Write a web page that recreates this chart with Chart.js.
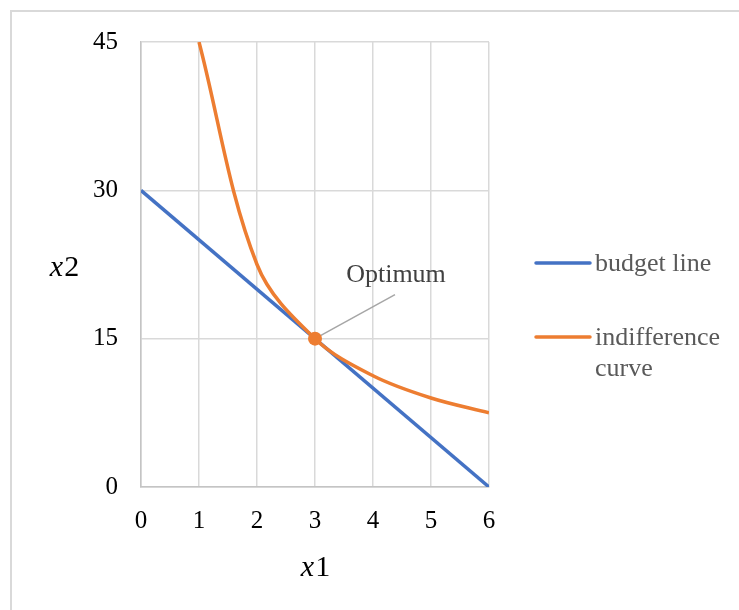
<!DOCTYPE html>
<html><head><meta charset="utf-8">
<script src="https://cdn.jsdelivr.net/npm/chart.js@4"></script>
<style>
html,body{margin:0;padding:0;background:#fff;overflow:hidden;width:739px;height:610px}
#frame{position:absolute;left:10px;top:10px;width:760px;height:640px;border:2px solid #d9d9d9;box-sizing:border-box}
#wrap{position:absolute;left:0;top:0;width:739px;height:610px}
</style></head><body>
<div id="frame"></div>
<div id="wrap"><canvas id="c" width="739" height="610"></canvas></div>
<script>
// ---- data ----
const xTickValues = [0, 1, 2, 3, 4, 5, 6];
const yTickValues = [0, 15, 30, 45];
const budgetX = [0, 6];
const budgetY = [30, 0];
const indiffX = [1, 2, 3, 4, 5, 6];
const indiffY = [45, 22.5, 15, 11.25, 9, 7.5];
const optimumX = [3];
const optimumY = [15];
const seriesNames = ['budget line', ['indifference', 'curve']];
const optimumLabel = 'Optimum';
const xTitle = ['x', '1'];
const yTitle = ['x', '2'];

const SERIF = '"Liberation Serif", "Times New Roman", serif';
const BLUE = '#4472C4', ORANGE = '#ED7D31';

const toPts = (xs, ys) => xs.map((x, i) => ({x, y: ys[i]}));

function drawMixed(ctx, parts, cx, cy, size) {
  const f1 = 'italic ' + size + 'px ' + SERIF;
  const f2 = size + 'px ' + SERIF;
  ctx.font = f1; const w1 = ctx.measureText(parts[0]).width;
  ctx.font = f2; const w2 = ctx.measureText(parts[1]).width;
  let x = cx - (w1 + w2) / 2;
  ctx.textBaseline = 'middle'; ctx.textAlign = 'left';
  ctx.font = f1; ctx.fillText(parts[0], x, cy);
  ctx.font = f2; ctx.fillText(parts[1], x + w1 + 1, cy);
}

const decor = {
  id: 'decor',
  beforeDatasetsDraw(chart) {
    const ctx = chart.ctx, xs = chart.scales.x, ys = chart.scales.y;
    const px = xs.getPixelForValue(optimumX[0]), py = ys.getPixelForValue(optimumY[0]);
    ctx.save();
    ctx.strokeStyle = '#a6a6a6'; ctx.lineWidth = 1.5;
    ctx.beginPath(); ctx.moveTo(px, py); ctx.lineTo(px + 80, py - 44); ctx.stroke();
    ctx.restore();
  },
  afterDraw(chart) {
    const ctx = chart.ctx, a = chart.chartArea, xs = chart.scales.x, ys = chart.scales.y;
    ctx.save();
    ctx.fillStyle = '#000';
    drawMixed(ctx, xTitle, (a.left + a.right) / 2, 568, 30);
    drawMixed(ctx, yTitle, 64, 268, 30);
    // optimum label
    const px = xs.getPixelForValue(optimumX[0]), py = ys.getPixelForValue(optimumY[0]);
    ctx.font = '26px ' + SERIF; ctx.fillStyle = '#404040';
    ctx.textAlign = 'center'; ctx.textBaseline = 'middle';
    ctx.fillText(optimumLabel, px + 81, py - 63);
    // legend
    const lx = a.right + 47;
    const rows = [{c: BLUE, y: 263, t: seriesNames[0]}, {c: ORANGE, y: 337, t: seriesNames[1]}];
    ctx.lineCap = 'round'; ctx.lineWidth = 3.5;
    ctx.font = '26px ' + SERIF; ctx.fillStyle = '#595959';
    ctx.textAlign = 'left'; ctx.textBaseline = 'middle';
    rows.forEach(r => {
      ctx.strokeStyle = r.c;
      ctx.beginPath(); ctx.moveTo(lx, r.y); ctx.lineTo(lx + 54, r.y); ctx.stroke();
      const lines = Array.isArray(r.t) ? r.t : [r.t];
      lines.forEach((s, i) => ctx.fillText(s, lx + 59, r.y + 1 + i * 31));
    });
    ctx.restore();
  }
};

new Chart(document.getElementById('c'), {
  type: 'scatter',
  data: {
    datasets: [
      {label: 'Optimum', data: toPts(optimumX, optimumY), showLine: false,
       pointRadius: 7, pointBackgroundColor: ORANGE, pointBorderColor: ORANGE, pointBorderWidth: 0},
      {label: 'indifference curve', data: toPts(indiffX, indiffY), showLine: true,
       borderColor: ORANGE, borderWidth: 3.5, pointRadius: 0, tension: 0.35, fill: false},
      {label: 'budget line', data: toPts(budgetX, budgetY), showLine: true,
       borderColor: BLUE, borderWidth: 3.5, pointRadius: 0, tension: 0, fill: false}
    ]
  },
  options: {
    responsive: false,
    animation: false,
    events: [],
    layout: {padding: {left: 0, top: 42, right: 250, bottom: 0}},
    plugins: {legend: {display: false}, tooltip: {enabled: false}},
    scales: {
      x: {
        type: 'linear', min: 0, max: 6,
        afterBuildTicks: s => { s.ticks = xTickValues.map(v => ({value: v})); },
        afterFit: s => { s.height = 123; },
        ticks: {color: '#000', padding: 19, font: {family: SERIF, size: 25}},
        grid: {color: '#d9d9d9', lineWidth: 1.5, drawTicks: false},
        border: {color: '#c4c4c4', width: 1.5}
      },
      y: {
        type: 'linear', min: 0, max: 45,
        afterBuildTicks: s => { s.ticks = yTickValues.map(v => ({value: v})); },
        afterFit: s => { s.width = 141; },
        ticks: {color: '#000', padding: 23, font: {family: SERIF, size: 25}},
        grid: {color: '#d9d9d9', lineWidth: 1.5, drawTicks: false},
        border: {color: '#c4c4c4', width: 1.5}
      }
    }
  },
  plugins: [decor]
});
</script>
</body></html>
